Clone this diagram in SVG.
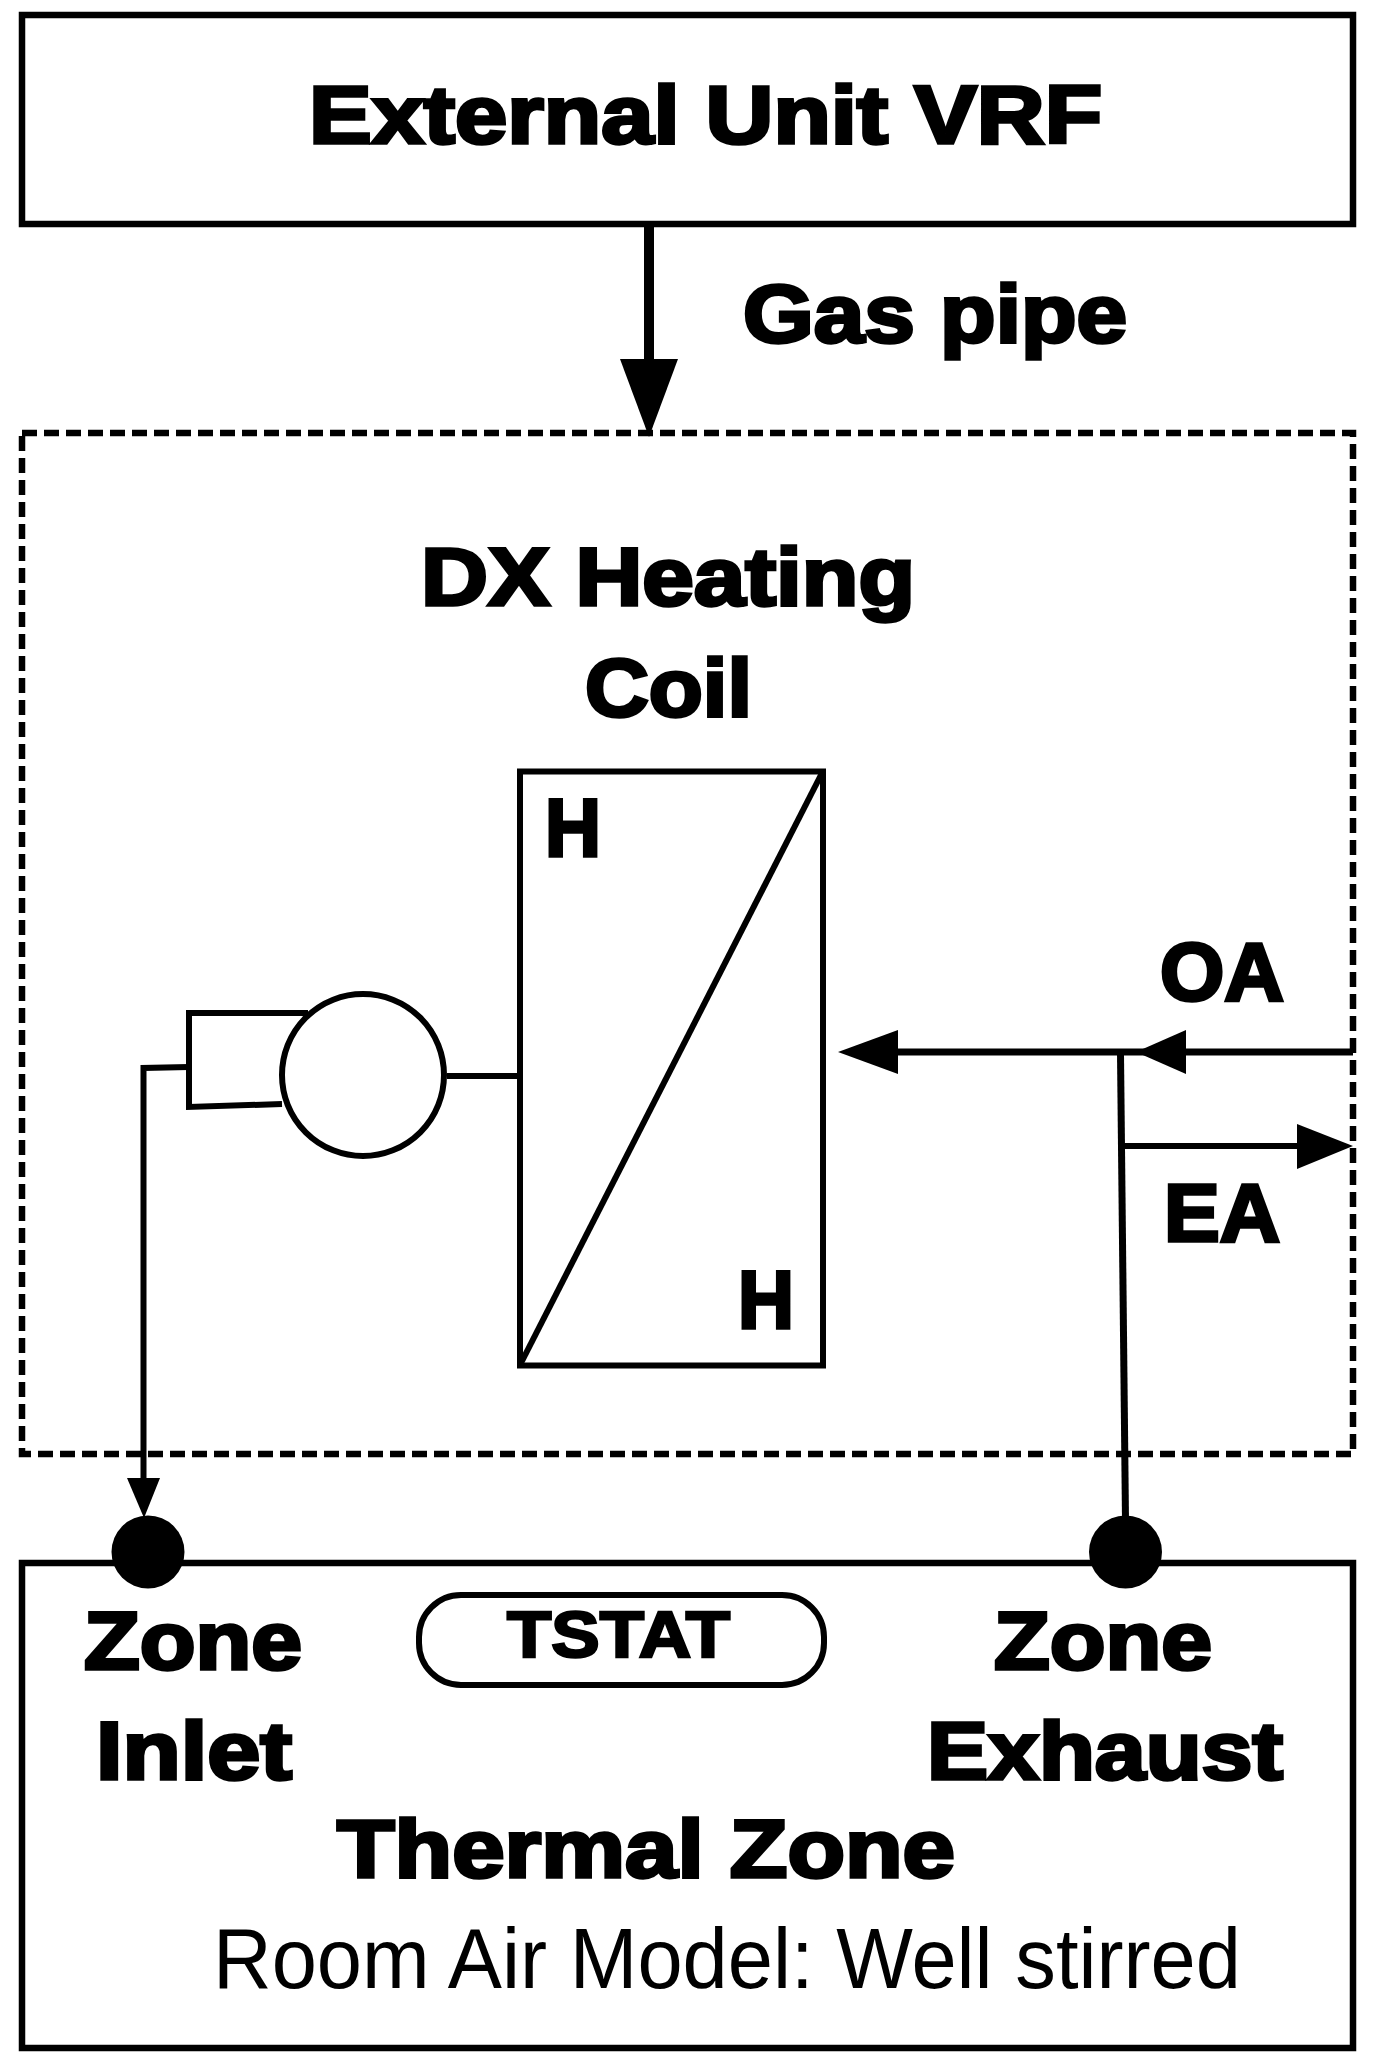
<svg xmlns="http://www.w3.org/2000/svg" width="1376" height="2071" viewBox="0 0 1376 2071">
<style>
.box{fill:none;stroke:#000;stroke-width:6.500}
.ln{fill:none;stroke:#000;stroke-width:6}
.ah{fill:#000;stroke:none}
text{font-family:"Liberation Sans",Arial,sans-serif;fill:#000}
.b{font-weight:700;font-size:82px;stroke:#000;stroke-width:3.500}
.r{font-size:86px}
</style>
<rect width="1376" height="2071" fill="#fff"/>
<g id="external-unit">
<rect class="box" x="22" y="15" width="1331" height="209"/>
<text class="b" x="309" y="143" textLength="793" lengthAdjust="spacingAndGlyphs">External Unit VRF</text>
</g>
<g id="dx-coil-system">
<rect class="box" x="22" y="433" width="1331" height="1021" stroke-dasharray="15 7"/>
<text class="b" x="421" y="605" textLength="494" lengthAdjust="spacingAndGlyphs">DX Heating</text>
<text class="b" x="585" y="716" textLength="167" lengthAdjust="spacingAndGlyphs">Coil</text>
</g>
<g id="heating-coil">
<rect class="ln" x="520" y="771.500" width="303" height="594"/>
<path class="ln" d="M520 1365L823 771"/>
<text class="b" x="545" y="856" textLength="56" lengthAdjust="spacingAndGlyphs">H</text>
<text class="b" x="738" y="1328" textLength="56" lengthAdjust="spacingAndGlyphs">H</text>
</g>
<g id="fan">
<circle class="ln" cx="363" cy="1075" r="81"/>
<path class="ln" d="M308 1013H189V1107L282 1104"/>
</g>
<g id="zone">
<rect class="box" x="22" y="1563" width="1331" height="485"/>
<text class="b" x="84" y="1669" textLength="218" lengthAdjust="spacingAndGlyphs">Zone</text>
<text class="b" x="96" y="1779" textLength="196" lengthAdjust="spacingAndGlyphs">Inlet</text>
<text class="b" x="994" y="1669" textLength="218" lengthAdjust="spacingAndGlyphs">Zone</text>
<text class="b" x="927" y="1779" textLength="356" lengthAdjust="spacingAndGlyphs">Exhaust</text>
<text class="b" x="337" y="1877" textLength="618" lengthAdjust="spacingAndGlyphs">Thermal Zone</text>
<text class="r" x="213" y="1988" textLength="1028" lengthAdjust="spacingAndGlyphs">Room Air Model: Well stirred</text>
</g>
<g id="zone-inlet-node"><circle cx="148" cy="1552" r="36.500"/></g>
<g id="zone-exhaust-node"><circle cx="1125.500" cy="1552" r="36.500"/></g>
<g id="tstat">
<rect class="ln" x="419" y="1595" width="405" height="90" rx="42" ry="42"/>
<text class="b" style="font-size:64px;stroke-width:2.500" x="507" y="1657" textLength="223" lengthAdjust="spacingAndGlyphs">TSTAT</text>
</g>
<g id="connectors">
<path class="ln" style="stroke-width:10" d="M649 224V362"/>
<path class="ah" d="M620 359H678L649 437Z"/>
<path class="ln" d="M447 1076H520"/>
<path class="ln" d="M189 1067L143.500 1068V1482"/>
<path class="ah" d="M127 1478H160L144 1518Z"/>
<path class="ln" style="stroke-width:7" d="M1353 1052H890"/>
<path class="ah" d="M898 1030V1074L838 1052Z"/>
<path class="ah" d="M1186 1030V1074L1136 1052Z"/>
<path class="ln" style="stroke-width:7" d="M1120.500 1054L1125.500 1520"/>
<path class="ln" d="M1124 1146H1300"/>
<path class="ah" d="M1297 1124V1169L1353 1146Z"/>
</g>
<g id="labels">
<text class="b" x="743" y="342" textLength="384" lengthAdjust="spacingAndGlyphs">Gas pipe</text>
<text class="b" x="1160" y="1000" textLength="124" lengthAdjust="spacingAndGlyphs">OA</text>
<text class="b" x="1164" y="1241" textLength="116" lengthAdjust="spacingAndGlyphs">EA</text>
</g>
</svg>
